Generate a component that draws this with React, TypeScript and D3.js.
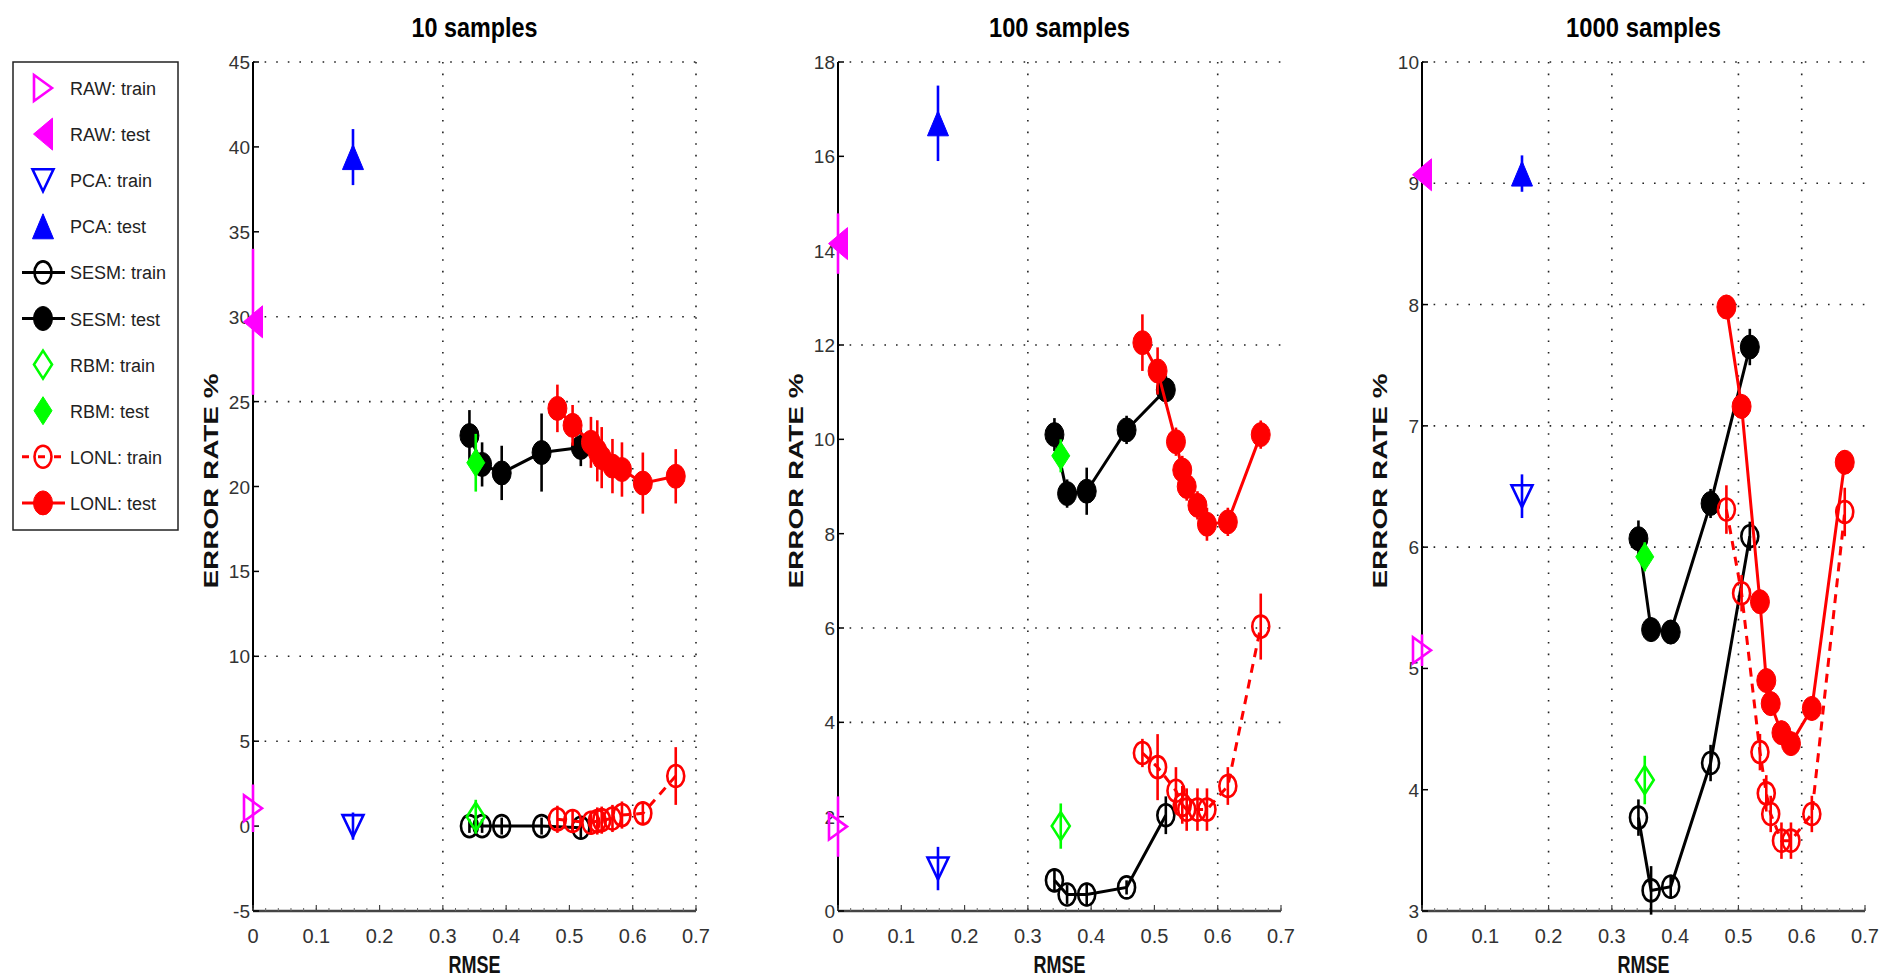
import React from 'react';
import * as d3 from 'd3';

// ---------- data ----------
const TITLES = ['10 samples', '100 samples', '1000 samples'];
const Y_TICKS = [
  [-5, 0, 5, 10, 15, 20, 25, 30, 35, 40, 45],
  [0, 2, 4, 6, 8, 10, 12, 14, 16, 18],
  [3, 4, 5, 6, 7, 8, 9, 10],
];
const X_TICKS = [0, 0.1, 0.2, 0.3, 0.4, 0.5, 0.6, 0.7];
const GRID_Y = [[45, 30, 25, 10, 5], [18, 12, 6, 4], [10, 9, 8, 7, 6]];
const GRID_X = [[0.3, 0.6, 0.7], [0.3, 0.6], [0.2, 0.3, 0.5, 0.6]];

const RAW_X = 0;
const PCA_X = 0.158;
const RBM_X = 0.352;
const SESM_X = [0.342, 0.362, 0.393, 0.456, 0.518];
const LONL_X = [0.481, 0.505, 0.534, 0.544, 0.551, 0.568, 0.583, 0.616, 0.668];

const RAW_TRAIN = [1.05, 1.79, 5.15];
const RAW_TRAIN_ERR = [1.4, 0.64, 0.13];
const RAW_TEST = [29.7, 14.15, 9.07];
const RAW_TEST_ERR = [4.3, 0.64, 0.05];
const PCA_TRAIN = [0.0, 0.9, 6.42];
const PCA_TRAIN_ERR = [0.8, 0.46, 0.18];
const PCA_TEST = [39.4, 16.7, 9.08];
const PCA_TEST_ERR = [1.65, 0.8, 0.15];
const RBM_TRAIN = [0.55, 1.8, 4.08];
const RBM_TRAIN_ERR = [1.0, 0.48, 0.2];
const RBM_TEST = [21.4, 9.65, 5.92];
const RBM_TEST_ERR = [1.7, 0.35, 0.12];

const SESM_TRAIN = [
  [0.0, 0.0, 0.0, 0.0, -0.1],
  [0.65, 0.35, 0.35, 0.5, 2.03],
  [3.77, 3.17, 3.2, 4.22, 6.09],
];
const SESM_TRAIN_ERR = [
  [0.4, 0.4, 0.5, 0.5, 0.6],
  [0.25, 0.2, 0.25, 0.15, 0.4],
  [0.15, 0.2, 0.1, 0.15, 0.12],
];
const SESM_TEST = [
  [23.0, 21.3, 20.8, 22.0, 22.3],
  [10.1, 8.85, 8.9, 10.2, 11.05],
  [6.07, 5.32, 5.3, 6.36, 7.65],
];
const SESM_TEST_ERR = [
  [1.5, 1.3, 1.6, 2.3, 1.1],
  [0.35, 0.3, 0.5, 0.3, 0.3],
  [0.15, 0.1, 0.1, 0.12, 0.15],
];
const LONL_TRAIN = [
  [0.4, 0.3, 0.2, 0.3, 0.35, 0.45, 0.65, 0.75, 2.95],
  [3.35, 3.05, 2.55, 2.25, 2.15, 2.15, 2.15, 2.65, 6.03],
  [6.31, 5.62, 4.31, 3.97, 3.8, 3.58, 3.58, 3.8, 6.29],
];
const LONL_TRAIN_ERR = [
  [0.8, 0.7, 0.7, 0.8, 0.8, 0.8, 0.8, 0.7, 1.7],
  [0.3, 0.7, 0.5, 0.4, 0.45, 0.45, 0.45, 0.4, 0.7],
  [0.2, 0.15, 0.15, 0.15, 0.15, 0.15, 0.15, 0.15, 0.2],
];
const LONL_TEST = [
  [24.6, 23.6, 22.6, 22.1, 21.7, 21.2, 21.0, 20.2, 20.6],
  [12.05, 11.45, 9.95, 9.35, 9.0, 8.6, 8.2, 8.25, 10.1],
  [7.98, 7.16, 5.55, 4.9, 4.71, 4.47, 4.38, 4.67, 6.7],
];
const LONL_TEST_ERR = [
  [1.4, 1.2, 1.5, 1.8, 1.8, 1.6, 1.6, 1.8, 1.6],
  [0.6, 0.5, 0.3, 0.3, 0.3, 0.3, 0.35, 0.3, 0.3],
  [0.1, 0.1, 0.1, 0.1, 0.1, 0.1, 0.1, 0.1, 0.1],
];

const LEGEND = [
  { label: 'RAW: train', color: '#ff00ff', shape: 'right', filled: false, line: null },
  { label: 'RAW: test', color: '#ff00ff', shape: 'left', filled: true, line: null },
  { label: 'PCA: train', color: '#0000ff', shape: 'down', filled: false, line: null },
  { label: 'PCA: test', color: '#0000ff', shape: 'up', filled: true, line: null },
  { label: 'SESM: train', color: '#000000', shape: 'circle', filled: false, line: 'solid' },
  { label: 'SESM: test', color: '#000000', shape: 'circle', filled: true, line: 'solid' },
  { label: 'RBM: train', color: '#00ff00', shape: 'diamond', filled: false, line: null },
  { label: 'RBM: test', color: '#00ff00', shape: 'diamond', filled: true, line: null },
  { label: 'LONL: train', color: '#ff0000', shape: 'circle', filled: false, line: 'dash' },
  { label: 'LONL: test', color: '#ff0000', shape: 'circle', filled: true, line: 'solid' },
];

// ---------- layout ----------
const PANEL_LEFT = [253, 838, 1422];
const PANEL_W = 443;
const TOP = 62;
const BOTTOM = 911;
const FONT = '"Liberation Sans", Arial, sans-serif';
const NARROW = '"Liberation Sans Narrow", "Liberation Sans", Arial, sans-serif';

function Marker({ shape, x, y, color, filled }: any) {
  const fill = filled ? color : 'none';
  const sw = filled ? 1 : 2.6;
  if (shape === 'circle') {
    return <ellipse cx={x} cy={y} rx={filled ? 9.5 : 8.5} ry={filled ? 12 : 11} fill={fill} stroke={color} strokeWidth={sw} />;
  }
  let d = '';
  if (shape === 'up') { const w = 21, h = 25; d = `M${x},${y - h / 2}L${x + w / 2},${y + h / 2}L${x - w / 2},${y + h / 2}Z`; }
  if (shape === 'down') { const w = 21, h = 22; d = `M${x - w / 2},${y - h / 2}L${x + w / 2},${y - h / 2}L${x},${y + h / 2}Z`; }
  if (shape === 'left') { const w = 19, h = 32; d = `M${x - w / 2},${y}L${x + w / 2},${y - h / 2}L${x + w / 2},${y + h / 2}Z`; }
  if (shape === 'right') { const w = 18, h = 26; d = `M${x + w / 2},${y}L${x - w / 2},${y - h / 2}L${x - w / 2},${y + h / 2}Z`; }
  if (shape === 'diamond') { const w = 18, h = 28; d = `M${x},${y - h / 2}L${x + w / 2},${y}L${x},${y + h / 2}L${x - w / 2},${y}Z`; }
  return <path d={d} fill={fill} stroke={color} strokeWidth={sw} strokeLinejoin="miter" />;
}

function Series({ xs, ys, es, xScale, yScale, color, shape, filled, line }: any) {
  const gen = d3.line<number>().x((_, i) => xScale(xs[i])).y((v) => yScale(v));
  return (
    <g>
      {line && (
        <path d={gen(ys) || ''} fill="none" stroke={color} strokeWidth={3}
          strokeDasharray={line === 'dash' ? '9 7' : undefined} />
      )}
      {ys.map((v: number, i: number) => (
        <line key={'e' + i} x1={xScale(xs[i])} x2={xScale(xs[i])} y1={yScale(v - es[i])} y2={yScale(v + es[i])}
          stroke={color} strokeWidth={2.6} />
      ))}
      {ys.map((v: number, i: number) => (
        <Marker key={'m' + i} shape={shape} x={xScale(xs[i])} y={yScale(v)} color={color} filled={filled} />
      ))}
    </g>
  );
}

function Panel({ p }: { p: number }) {
  const left = PANEL_LEFT[p];
  const xScale = d3.scaleLinear().domain([0, 0.7]).range([left, left + PANEL_W]);
  const yt = Y_TICKS[p];
  const yScale = d3.scaleLinear().domain([yt[0], yt[yt.length - 1]]).range([BOTTOM, TOP]);
  const minor = d3.range(0, 0.7001, 0.02);
  const cx = left + PANEL_W / 2;
  const titleLen = [126, 141, 155][p];
  return (
    <g>
      <text x={cx} y={37} textAnchor="middle" fontFamily={NARROW} fontWeight="bold" fontSize={28}
        textLength={titleLen} lengthAdjust="spacingAndGlyphs" fill="#000">{TITLES[p]}</text>
      {/* grid */}
      {GRID_Y[p].map((v) => (
        <line key={'gy' + v} x1={left} x2={left + PANEL_W} y1={yScale(v)} y2={yScale(v)}
          stroke="#222" strokeWidth={1.6} strokeDasharray="1.6 10" />
      ))}
      {GRID_X[p].map((v) => (
        <line key={'gx' + v} x1={xScale(v)} x2={xScale(v)} y1={TOP} y2={BOTTOM}
          stroke="#222" strokeWidth={1.6} strokeDasharray="1.6 10" />
      ))}
      {/* axes */}
      <line x1={left} x2={left} y1={TOP} y2={BOTTOM} stroke="#000" strokeWidth={2} />
      <line x1={left} x2={left + PANEL_W} y1={BOTTOM} y2={BOTTOM} stroke="#444" strokeWidth={2.6} />
      {minor.map((v) => (
        <line key={'mt' + v} x1={xScale(v)} x2={xScale(v)} y1={BOTTOM} y2={BOTTOM - 3} stroke="#666" strokeWidth={1} />
      ))}
      {X_TICKS.map((v) => (
        <g key={'xt' + v}>
          <line x1={xScale(v)} x2={xScale(v)} y1={BOTTOM} y2={BOTTOM - 6} stroke="#444" strokeWidth={1.2} />
          <text x={xScale(v)} y={943} textAnchor="middle" fontFamily={FONT} fontSize={20} fill="#333">{String(v)}</text>
        </g>
      ))}
      {yt.map((v) => (
        <g key={'yt' + v}>
          <line x1={left} x2={left + 6} y1={yScale(v)} y2={yScale(v)} stroke="#000" strokeWidth={1.5} />
          <text x={left - 3} y={yScale(v) + 7} textAnchor="end" fontFamily={FONT} fontSize={19} fill="#333">{String(v)}</text>
        </g>
      ))}
      <text x={cx} y={973} textAnchor="middle" fontFamily={NARROW} fontWeight="bold" fontSize={24}
        textLength={52} lengthAdjust="spacingAndGlyphs" fill="#111">RMSE</text>
      <text transform={`translate(${left - 35},481) rotate(-90)`} textAnchor="middle" fontFamily={FONT}
        fontWeight="bold" fontSize={20} textLength={215} lengthAdjust="spacingAndGlyphs" fill="#111">ERROR RATE %</text>
      {/* series */}
      <Series xs={[RAW_X]} ys={[RAW_TRAIN[p]]} es={[RAW_TRAIN_ERR[p]]} xScale={xScale} yScale={yScale} color="#ff00ff" shape="right" filled={false} />
      <Series xs={[RAW_X]} ys={[RAW_TEST[p]]} es={[RAW_TEST_ERR[p]]} xScale={xScale} yScale={yScale} color="#ff00ff" shape="left" filled />
      <Series xs={[PCA_X]} ys={[PCA_TRAIN[p]]} es={[PCA_TRAIN_ERR[p]]} xScale={xScale} yScale={yScale} color="#0000ff" shape="down" filled={false} />
      <Series xs={[PCA_X]} ys={[PCA_TEST[p]]} es={[PCA_TEST_ERR[p]]} xScale={xScale} yScale={yScale} color="#0000ff" shape="up" filled />
      <Series xs={SESM_X} ys={SESM_TRAIN[p]} es={SESM_TRAIN_ERR[p]} xScale={xScale} yScale={yScale} color="#000" shape="circle" filled={false} line="solid" />
      <Series xs={SESM_X} ys={SESM_TEST[p]} es={SESM_TEST_ERR[p]} xScale={xScale} yScale={yScale} color="#000" shape="circle" filled line="solid" />
      <Series xs={[RBM_X]} ys={[RBM_TRAIN[p]]} es={[RBM_TRAIN_ERR[p]]} xScale={xScale} yScale={yScale} color="#00ff00" shape="diamond" filled={false} />
      <Series xs={[RBM_X]} ys={[RBM_TEST[p]]} es={[RBM_TEST_ERR[p]]} xScale={xScale} yScale={yScale} color="#00ff00" shape="diamond" filled />
      <Series xs={LONL_X} ys={LONL_TRAIN[p]} es={LONL_TRAIN_ERR[p]} xScale={xScale} yScale={yScale} color="#ff0000" shape="circle" filled={false} line="dash" />
      <Series xs={LONL_X} ys={LONL_TEST[p]} es={LONL_TEST_ERR[p]} xScale={xScale} yScale={yScale} color="#ff0000" shape="circle" filled line="solid" />
    </g>
  );
}

function Legend() {
  const y0 = 88;
  const step = 46.1;
  return (
    <g>
      <rect x={13} y={62} width={165} height={468} fill="#fff" stroke="#222" strokeWidth={1.5} />
      {LEGEND.map((d, i) => {
        const y = y0 + i * step;
        return (
          <g key={d.label}>
            {d.line && (
              <line x1={22} x2={65} y1={y} y2={y} stroke={d.color} strokeWidth={3}
                strokeDasharray={d.line === 'dash' ? '7 9' : undefined} />
            )}
            <Marker shape={d.shape} x={43} y={y} color={d.color} filled={d.filled} />
            <text x={70} y={y + 7} fontFamily={FONT} fontSize={18} fill="#222">{d.label}</text>
          </g>
        );
      })}
    </g>
  );
}

export default function App() {
  return (
    <svg width={1888} height={978} style={{ position: 'absolute', left: 0, top: 0, background: '#fff' }}>
      <rect x={0} y={0} width={1888} height={978} fill="#fff" />
      <Legend />
      {[0, 1, 2].map((p) => <Panel key={p} p={p} />)}
    </svg>
  );
}
